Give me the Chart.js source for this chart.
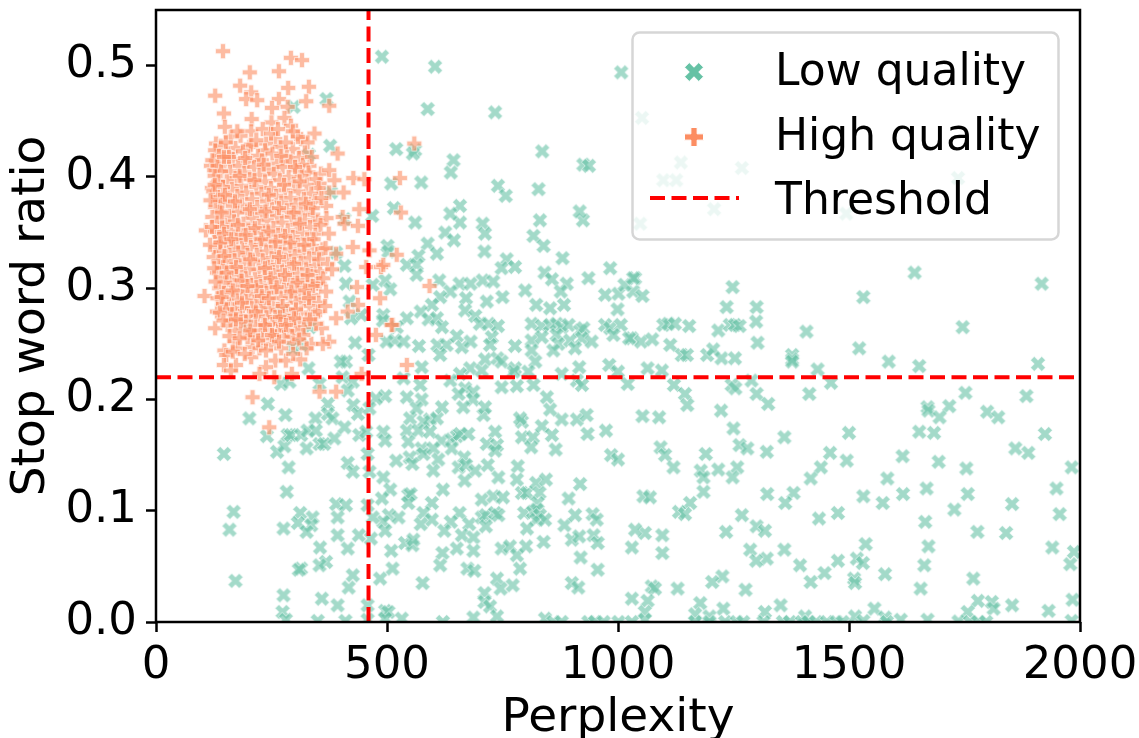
<!DOCTYPE html>
<html>
<head>
<meta charset="utf-8">
<title>Perplexity vs stop word ratio</title>
<script src="https://cdn.jsdelivr.net/npm/chart.js@4"></script>
<style>
html, body { margin: 0; padding: 0; background: #fff; }
#wrap { width: 1139px; height: 738px; }
</style>
</head>
<body>
<div id="wrap"><canvas id="chart" width="1139" height="738"></canvas></div>
<script>
const xTicks = [0, 500, 1000, 1500, 2000];
const yTicks = [0, 0.1, 0.2, 0.3, 0.4, 0.5];
const perplexityThreshold = 460;
const stopWordThreshold = 0.22;

// [perplexity, stop word ratio]
const lowQuality = [
[1642,.314],[1531,.292],[1917,.304],[1746,.265],[1522,.246],[1586,.234],[1652,.230],[1909,.232],[1752,.206],[1884,.203],
[1670,.193],[1672,.190],[1717,.194],[1696,.184],[1799,.189],[1823,.184],[1652,.171],[1684,.170],[1924,.169],
[1860,.156],[1888,.152],[1616,.149],[1694,.144],[1754,.138],[1982,.139],[1583,.129],[1668,.120],[1949,.120],[1531,.113],
[1617,.115],[1757,.115],[1573,.107],[1853,.106],[1728,.101],[1956,.097],[1665,.090],[1778,.081],[1840,.080],[1536,.070],
[1672,.068],[1940,.067],[1987,.063],[1517,.057],[1530,.053],[1663,.051],[1979,.052],[1578,.043],[1511,.039],[1513,.035],
[1769,.039],[1655,.030],[1779,.019],[1809,.018],[1813,.012],[1853,.015],[1984,.020],[1932,.010],[1555,.012],[1757,.009],
[1513,.005],[1578,.004],[1531,.001],[1582,0],[1612,.002],[1670,.002],[1737,.0005],[1762,0],[1780,0],[1797,0],[1982,.001],
[1037,.309],[1033,.297],[1053,.293],[1248,.301],[1235,.283],[1300,.283],[1299,.270],[1098,.267],[1109,.268],[1123,.268],
[1154,.266],[1217,.262],[1242,.267],[1253,.267],[1263,.266],[1030,.255],[1050,.252],[1074,.254],[1113,.249],[1302,.251],
[1408,.261],[1138,.240],[1149,.240],[1193,.240],[1206,.245],[1224,.237],[1253,.237],[1377,.240],[1377,.236],[1377,.234],
[1064,.228],[1095,.226],[1432,.227],[1121,.213],[1289,.217],[1246,.213],[1254,.210],[1461,.215],[1145,.205],[1300,.205],
[1414,.205],[1325,.196],[1150,.195],[1223,.190],[1053,.185],[1089,.184],
[1250,.174],[1360,.166],[1500,.170],[1092,.157],[1102,.150],[1263,.159],[1280,.156],[1190,.151],[1322,.153],[1459,.152],
[1120,.139],[1495,.145],[1439,.139],[1179,.136],[1185,.130],[1217,.137],[1258,.139],[1248,.130],[1417,.129],[1185,.117],
[1323,.115],[1380,.116],[1362,.107],[1055,.113],[1069,.112],[1156,.107],[1132,.099],[1145,.097],[1268,.096],[1435,.093],
[1476,.098],[1300,.086],[1318,.082],[1234,.081],[1058,.080],[1096,.078],[1096,.062],[1286,.065],
[1360,.065],[1322,.057],[1299,.055],[1394,.051],[1476,.055],[1447,.044],[1417,.036],[1226,.041],[1204,.036],[1073,.032],
[1080,.030],[1129,.030],[1276,.029],[1064,.019],[1058,.009],[1178,.017],[1167,.007],[1228,.012],[1318,.009],
[1352,.015],[1198,.005],[1405,.005],[1167,0],[1198,0],[1232,0],[1257,0],[1271,0],[1315,0],[1357,0],[1372,0],[1398,0],
[1412,0],[1429,0],[1452,0],[1473,0],[1486,0],[1058,.002],
[550,.183],[593,.182],[608,.183],[579,.180],[709,.186],[792,.180],[788,.183],[878,.182],[911,.182],[932,.186],[492,.171],
[496,.163],[543,.172],[568,.172],[593,.171],[546,.162],[618,.163],[640,.164],[651,.167],[658,.169],[676,.169],[640,.156],
[734,.171],[716,.160],[738,.159],[734,.154],[792,.166],[816,.166],[835,.176],[857,.168],[812,.157],[865,.155],[934,.169],
[974,.172],[985,.150],[1000,.146],[575,.156],[579,.151],[600,.156],[520,.145],[549,.148],[555,.142],[611,.146],[600,.136],
[667,.148],[655,.139],[671,.141],[691,.136],[668,.127],[718,.141],[741,.130],[783,.140],[781,.128],[492,.130],[507,.119],
[489,.111],[621,.119],[546,.114],[551,.115],[546,.107],[597,.107],[579,.098],[597,.092],[705,.110],[730,.113],[751,.112],
[792,.116],[803,.116],[823,.125],[844,.128],[830,.116],[826,.107],[918,.124],[893,.111],[657,.098],[638,.090],[678,.088],
[705,.094],[714,.096],[734,.098],[741,.096],[714,.086],[797,.098],[816,.099],[824,.101],[831,.096],[823,.092],[842,.092],
[803,.084],[884,.087],[907,.096],[945,.097],[954,.092],[504,.096],[525,.094],[573,.088],[492,.090],[496,.082],[624,.082],
[662,.078],[687,.076],[900,.074],[916,.077],[947,.078],[956,.071],[1037,.083],[1030,.067],[539,.071],[555,.069],[557,.074],
[509,.064],[620,.062],[651,.066],[687,.064],[748,.066],[766,.068],[781,.060],[801,.068],[839,.072],[919,.058],[956,.047],
[512,.048],[615,.051],[674,.048],[689,.046],[788,.048],[577,.035],[485,.039],[738,.039],[746,.030],[772,.033],[900,.035],
[914,.031],[1030,.021],[711,.026],[711,.018],[723,.014],[496,.010],[503,.009],[532,.003],[496,.003],[621,0],[687,.004],
[738,.005],[842,.003],[860,0],[878,0],[936,0],[950,0],[969,0],[1001,0],[1030,0],
[561,.359],[626,.350],[645,.343],[658,.359],[707,.358],[712,.349],[711,.333],[831,.361],[924,.361],[817,.347],[839,.338],
[880,.327],[983,.318],[936,.309],[501,.338],[503,.333],[588,.340],[568,.329],[608,.331],[543,.321],[564,.321],[564,.312],
[496,.307],[507,.299],[759,.326],[748,.318],[777,.319],[841,.314],[857,.308],[889,.304],[876,.297],[613,.307],[657,.304],
[681,.304],[707,.307],[730,.306],[637,.297],[615,.292],[597,.285],[573,.279],[671,.291],[716,.288],[750,.292],[799,.298],
[823,.285],[853,.282],[883,.285],[972,.294],[1001,.295],[1014,.303],[1033,.309],[999,.281],[669,.280],[691,.275],[701,.268],
[720,.268],[740,.266],[590,.272],[608,.273],[619,.265],[543,.273],[521,.265],[492,.276],[813,.268],[835,.266],[853,.267],
[867,.268],[878,.265],[893,.267],[918,.262],[925,.264],[972,.267],[983,.264],[1006,.267],[990,.258],[1024,.255],[517,.253],
[536,.252],[569,.248],[499,.252],[609,.249],[629,.249],[651,.257],[662,.247],[681,.252],[727,.256],[723,.249],[777,.248],
[813,.253],[813,.244],[835,.256],[867,.258],[871,.250],[860,.244],[896,.253],[922,.255],[907,.246],[943,.252],[615,.240],
[712,.236],[739,.237],[748,.234],[821,.234],[916,.229],[981,.231],[1000,.225],[575,.229],[680,.228],[658,.223],[705,.226],
[777,.228],[774,.225],[806,.225],[878,.223],[536,.219],[572,.213],[637,.217],[748,.211],[781,.212],[817,.213],[911,.217],
[922,.213],[1021,.214],[669,.210],[655,.205],[687,.207],[496,.203],[543,.202],[575,.200],[564,.192],[846,.202],[686,.200],
[665,.193],[712,.193],[619,.193],[853,.191],
[489,.508],[604,.499],[1007,.494],[588,.461],[734,.458],[520,.425],[561,.424],[556,.421],[836,.423],[644,.415],[638,.404],
[925,.411],[937,.410],[509,.394],[574,.395],[740,.392],[757,.383],[828,.389],[515,.372],[917,.369],[658,.374],
[637,.367],[1052,.453],[1136,.413],[1098,.397],[1126,.397],[1268,.408],[1736,.399],[1208,.371],
[1048,.358],[1494,.367],
[369,.470],[298,.463],[377,.428],[331,.420],[379,.386],[468,.365],[408,.362],[390,.332],[408,.320],
[411,.304],[469,.303],[419,.288],[444,.276],[422,.273],[491,.271],[195,.266],[271,.279],
[333,.265],[314,.249],[296,.246],[431,.251],[460,.240],[411,.234],[400,.234],[330,.228],[271,.214],[289,.216],
[354,.214],[404,.220],[426,.216],[415,.208],[372,.196],[427,.195],[476,.201],[242,.196],[437,.187],[372,.187],
[462,.192],[280,.186],[202,.183],[345,.183],[382,.183],
[240,.167],[147,.151],[262,.153],[278,.158],[285,.168],[292,.168],[314,.168],[328,.172],[346,.172],[326,.156],[354,.160],
[364,.160],[386,.165],[408,.175],[440,.168],[455,.171],[287,.139],[415,.143],[426,.135],[458,.151],
[462,.135],[283,.117],[390,.106],[411,.105],[458,.105],[168,.099],
[159,.083],[276,.084],[312,.098],[307,.089],[339,.094],[336,.087],[326,.081],[393,.094],[393,.078],[439,.078],[465,.075],
[469,.094],[355,.067],[415,.066],[368,.054],[354,.051],[314,.048],[309,.047],
[426,.042],[172,.037],[417,.031],[276,.024],[359,.021],[393,.015],[458,.015],[274,.009],[281,.002],
[350,.001],[410,.001],[458,.002]
];

const highQuality = [
[145,.513],[292,.507],[316,.505],[203,.494],[266,.495],[182,.482],[286,.480],[331,.481],[128,.473],[206,.476],[195,.470],
[219,.469],[266,.470],[325,.468],[251,.462],[285,.463],[375,.464],[147,.457],[207,.452],[278,.453],[250,.449],[292,.446],
[149,.445],[206,.441],[231,.443],[162,.436],[343,.439],[258,.434],[314,.434],[130,.430],[202,.427],[238,.430],[328,.431],
[393,.421],[119,.410],[126,.406],[121,.390],[134,.378],[332,.410],[357,.403],[375,.406],[386,.397],[427,.399],[451,.398],
[354,.394],[375,.386],[406,.386],[368,.374],[440,.371],[404,.364],
[108,.352],[105,.293],[132,.279],[128,.264],[155,.267],[170,.252],[148,.244],[177,.246],[152,.240],[147,.231],[173,.231],
[162,.226],[206,.256],[209,.247],[206,.238],[224,.246],[249,.250],[271,.246],[258,.235],[281,.235],[238,.229],[224,.223],
[256,.220],[294,.223],[312,.236],[336,.250],[359,.264],[375,.252],[361,.250],[390,.273],[415,.279],[437,.285],[354,.207],
[390,.207],[209,.202],[245,.175],[445,.223],[476,.258],[512,.267],[485,.291],[435,.301],[462,.334],[455,.319],[487,.319],
[408,.358],[437,.356],[390,.331],[426,.337],[354,.304],[543,.231],[592,.302],[521,.330],[492,.321],[510,.267],[559,.430],
[528,.399],[530,.368],
[140,.428],[172,.426],[205,.429],[236,.424],[268,.427],[296,.425],[322,.422],[128,.424],[155,.421],[188,.423],[221,.419],
[252,.421],[283,.418],[309,.417],[136,.419],[166,.416],[198,.414],[229,.415],[262,.412],[291,.414],[318,.411],[122,.415],
[148,.412],[178,.410],[212,.409],[243,.407],[274,.409],[304,.406],[330,.404],[133,.410],[160,.405],[191,.404],[224,.402],
[255,.403],[287,.400],[315,.401],[345,.398],[141,.405],[172,.399],[203,.398],[236,.396],[268,.397],[298,.394],[326,.393],
[352,.390],[127,.401],[153,.396],[184,.392],[217,.391],[249,.390],[279,.388],[308,.387],[336,.385],[135,.396],[164,.389],
[195,.386],[228,.385],[260,.383],[291,.381],[320,.380],[344,.378],[145,.391],[176,.383],[208,.380],[240,.378],[271,.377],
[302,.375],[331,.373],[124,.387],[155,.381],[186,.375],[219,.373],[251,.371],[283,.370],[313,.368],[340,.366],[134,.382],
[166,.374],[197,.369],[229,.367],[262,.365],[293,.364],[322,.361],[350,.360],[144,.378],[176,.368],[208,.363],[240,.361],
[272,.359],[304,.357],[333,.355],[128,.373],[158,.365],[189,.358],[222,.356],[254,.354],[285,.352],[316,.350],[345,.349],
[138,.369],[169,.360],[200,.352],[233,.350],[264,.348],[296,.346],[327,.344],[122,.364],[149,.357],[180,.349],[212,.345],
[245,.343],[276,.341],[307,.339],[338,.338],[360,.335],[133,.360],[162,.351],[193,.343],[225,.339],[257,.337],[289,.335],
[319,.333],[349,.331],[143,.355],[174,.344],[205,.337],[238,.333],[268,.331],[300,.329],[331,.327],[128,.351],[156,.342],
[186,.336],[218,.330],[250,.327],[281,.325],[313,.323],[343,.320],[137,.346],[167,.337],[198,.330],[231,.325],[262,.321],
[294,.319],[325,.317],[355,.315],[147,.342],[178,.332],[210,.324],[242,.319],[273,.315],[305,.313],[336,.311],[130,.337],
[159,.330],[190,.323],[222,.316],[254,.312],[286,.309],[317,.307],[347,.304],[140,.333],[170,.325],[201,.317],[234,.310],
[265,.306],[297,.303],[328,.301],[125,.328],[151,.323],[182,.315],[214,.308],[246,.303],[277,.299],[309,.296],[340,.294],
[135,.324],[163,.317],[194,.309],[226,.302],[258,.297],[290,.293],[320,.290],[352,.287],[145,.319],[175,.311],[206,.303],
[239,.296],[270,.291],[302,.287],[332,.284],[132,.314],[158,.308],[188,.301],[220,.293],[252,.286],[283,.281],[314,.278],
[344,.276],[141,.310],[170,.303],[200,.295],[233,.287],[264,.281],[296,.276],[326,.272],[150,.305],[181,.297],[213,.288],
[245,.280],[276,.275],[308,.270],[137,.300],[163,.296],[194,.289],[226,.282],[258,.274],[289,.268],[320,.265],[147,.296],
[175,.290],[207,.282],[239,.274],[270,.268],[301,.262],[133,.291],[158,.286],[188,.282],[220,.275],[252,.268],[283,.262],
[145,.286],[170,.281],[201,.275],[233,.268],[264,.262],[295,.257],[152,.281],[182,.275],[214,.267],[246,.261],[277,.256],
[165,.277],[195,.270],[227,.262],[258,.257],[190,.263],[212,.258],[172,.262],[198,.256],[232,.255],[296,.251],[183,.270],
[151,.431],[183,.437],[217,.433],[249,.439],[281,.431],[307,.436],[158,.418],[193,.417],[233,.411],[271,.419],[301,.409],
[337,.418],[127,.393],[149,.384],[181,.401],[213,.397],[244,.384],[277,.393],[311,.396],
[339,.372],[358,.381],[369,.363],[118,.379],[142,.368],[171,.378],[203,.371],[237,.369],[266,.372],[298,.368],[324,.376],
[356,.357],[374,.349],[121,.355],[147,.349],[177,.357],[214,.354],[243,.351],[279,.347],[311,.358],[341,.344],[367,.336],
[117,.339],[139,.341],[163,.344],[194,.348],[228,.344],[259,.342],[291,.341],[321,.339],[353,.326],[372,.322],[126,.318],
[148,.329],[173,.319],[204,.326],[236,.318],[266,.328],[299,.322],[328,.312],[362,.309],[381,.317],[129,.306],[153,.314],
[185,.307],[217,.301],[248,.309],[279,.312],[306,.305],[339,.302],[368,.297],[142,.292],[166,.298],[198,.302],[229,.293],
[261,.301],[293,.297],[323,.298],[351,.279],[366,.284],[138,.278],[161,.271],[186,.287],[216,.279],[244,.291],[274,.284],
[303,.281],[331,.291],[346,.268],[146,.271],[173,.272],[204,.262],[236,.267],[268,.274],[299,.273],[319,.258],[333,.272],
[159,.257],[181,.255],[221,.253],[251,.258],[281,.267],[310,.254],[326,.246],[166,.243],[192,.241],[238,.244],[266,.252],
[297,.241],[147,.418],[176,.441],[264,.443],[296,.441]
];

function makeMarker(points, color, size, r, alpha) {
    const c = document.createElement("canvas");
    c.width = size;
    c.height = size;
    const g = c.getContext("2d");
    g.globalAlpha = alpha;
    g.translate(size / 2, size / 2);
    g.beginPath();
    points.forEach((p, i) => {
        if (i === 0) g.moveTo(p[0] * r, p[1] * r);
        else g.lineTo(p[0] * r, p[1] * r);
    });
    g.closePath();
    g.fillStyle = color;
    g.fill();
    g.lineWidth = 1;
    g.lineJoin = "round";
    g.strokeStyle = "#ffffff";
    g.stroke();
    return c;
}

// outlines of the matplotlib "X" and "P" markers, unit radius
const xShape = [[-.5,-1],[0,-.5],[.5,-1],[1,-.5],[.5,0],[1,.5],[.5,1],[0,.5],[-.5,1],[-1,.5],[-.5,0],[-1,-.5]];
const pShape = [[-.33,-1],[.33,-1],[.33,-.33],[1,-.33],[1,.33],[.33,.33],[.33,1],[-.33,1],[-.33,.33],[-1,.33],[-1,-.33],[-.33,-.33]];

const lowMarker = makeMarker(xShape, "#66c2a5", 18, 7.5, 0.6);
const highMarker = makeMarker(pShape, "#fc8d62", 18, 7.5, 0.6);
const lowLegend = makeMarker(xShape, "#66c2a5", 22, 9.5, 1);
const highLegend = makeMarker(pShape, "#fc8d62", 22, 9.5, 1);

const FONT = '"DejaVu Sans", sans-serif';

const framePlugin = {
    id: "frameAndLegend",
    afterDraw(chart) {
        const ctx = chart.ctx;
        const a = chart.chartArea;
        ctx.save();
        ctx.strokeStyle = "#000";
        ctx.lineWidth = 2.5;
        ctx.strokeRect(a.left, a.top, a.right - a.left, a.bottom - a.top);

        // legend box
        ctx.beginPath();
        ctx.roundRect(632.5, 32.5, 426, 207, 7);
        ctx.fillStyle = "rgba(255,255,255,0.8)";
        ctx.fill();
        ctx.lineWidth = 2.5;
        ctx.strokeStyle = "rgba(204,204,204,0.8)";
        ctx.stroke();

        ctx.drawImage(lowLegend, 683, 61);
        ctx.drawImage(highLegend, 683, 126);
        ctx.strokeStyle = "#ff0000";
        ctx.lineWidth = 4;
        ctx.setLineDash([15, 6.5]);
        ctx.beginPath();
        ctx.moveTo(650, 198);
        ctx.lineTo(739, 198);
        ctx.stroke();
        ctx.setLineDash([]);

        ctx.fillStyle = "#000";
        ctx.font = "44px " + FONT;
        ctx.textBaseline = "alphabetic";
        ctx.textAlign = "left";
        ctx.fillText("Low quality", 775, 85);
        ctx.fillText("High quality", 775, 150);
        ctx.fillText("Threshold", 775, 214);
        ctx.restore();
    }
};

new Chart(document.getElementById("chart"), {
    type: "scatter",
    data: {
        datasets: [
            {
                label: "Low quality",
                data: lowQuality.map(p => ({ x: p[0], y: p[1] })),
                pointStyle: lowMarker,
                order: 3,
                clip: 0
            },
            {
                label: "High quality",
                data: highQuality.map(p => ({ x: p[0], y: p[1] })),
                pointStyle: highMarker,
                order: 2,
                clip: 0
            },
            {
                label: "Threshold",
                data: [{ x: perplexityThreshold, y: 0 }, { x: perplexityThreshold, y: 0.55 }],
                showLine: true,
                borderColor: "#ff0000",
                borderWidth: 4,
                borderDash: [15, 6.5],
                pointRadius: 0,
                order: 1,
                clip: 0
            },
            {
                label: "Threshold",
                data: [{ x: 0, y: stopWordThreshold }, { x: 2000, y: stopWordThreshold }],
                showLine: true,
                borderColor: "#ff0000",
                borderWidth: 4,
                borderDash: [15, 6.5],
                pointRadius: 0,
                order: 0,
                clip: 0
            }
        ]
    },
    options: {
        responsive: false,
        animation: false,
        events: [],
        layout: { padding: { top: 10, right: 59, left: 0, bottom: 0 } },
        plugins: {
            legend: { display: false },
            tooltip: { enabled: false }
        },
        scales: {
            x: {
                type: "linear",
                min: 0,
                max: 2000,
                afterBuildTicks: s => { s.ticks = xTicks.map(v => ({ value: v })); },
                afterFit: s => { s.height = 116; s.paddingLeft = 0; s.paddingRight = 0; },
                grid: { drawOnChartArea: false, drawTicks: true, tickLength: 10, tickWidth: 2.5, tickColor: "#000" },
                border: { display: false },
                ticks: {
                    color: "#000",
                    maxRotation: 0,
                    autoSkip: false,
                    padding: 7,
                    font: { family: FONT, size: 45 },
                    callback: v => String(v)
                },
                title: {
                    display: true,
                    text: "Perplexity",
                    color: "#000",
                    padding: { top: 0, bottom: -9 },
                    font: { family: FONT, size: 47 }
                }
            },
            y: {
                type: "linear",
                min: 0,
                max: 0.55,
                afterBuildTicks: s => { s.ticks = yTicks.map(v => ({ value: v })); },
                afterFit: s => { s.width = 156; s.paddingTop = 0; s.paddingBottom = 0; },
                grid: { drawOnChartArea: false, drawTicks: true, tickLength: 10, tickWidth: 2.5, tickColor: "#000" },
                border: { display: false },
                ticks: {
                    color: "#000",
                    autoSkip: false,
                    padding: 9,
                    font: { family: FONT, size: 45 },
                    callback: v => v.toFixed(1)
                },
                title: {
                    display: true,
                    text: "Stop word ratio",
                    color: "#000",
                    padding: { top: 4, bottom: 0 },
                    font: { family: FONT, size: 47 }
                }
            }
        }
    },
    plugins: [framePlugin]
});
</script>
</body>
</html>
